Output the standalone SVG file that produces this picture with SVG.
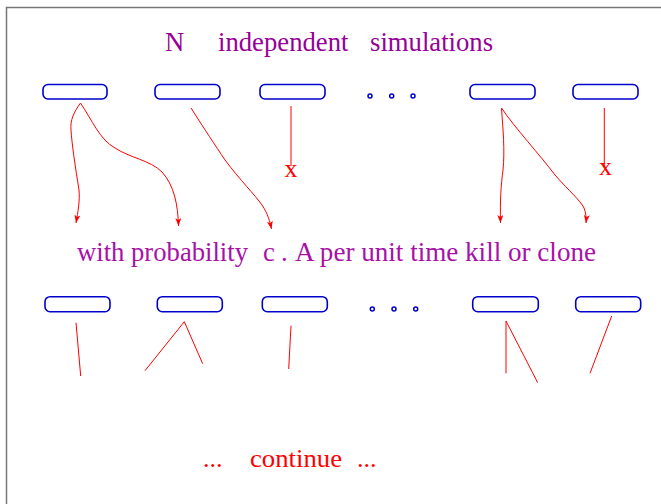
<svg xmlns="http://www.w3.org/2000/svg" width="661" height="504" viewBox="0 0 661 504">
<style>
.box{fill:none;stroke:#0000cc;stroke-width:1.6}
.dot{fill:none;stroke:#0000cc;stroke-width:1.5}
.ln{fill:none;stroke:#ff0000;stroke-width:1}
.arr{marker-end:url(#ah)}
.t{font-family:"Liberation Serif","Times New Roman",serif;font-size:26.7px}
.pur{fill:#a810a8}
.pur2{fill:#970097}
.red{fill:#ff0000}
.x{font-family:"Liberation Serif","Times New Roman",serif;font-size:26px;fill:#ff0000;text-anchor:middle}
</style>
<defs>
<marker id="ah" markerUnits="userSpaceOnUse" markerWidth="10" markerHeight="8" refX="8" refY="3" orient="auto">
<path d="M0,0 L8,3 L0,6 L2,3 z" fill="#ff0000"/>
</marker>
</defs>
<rect x="6.5" y="7.5" width="700" height="600" fill="#ffffff" stroke="#777777" stroke-width="1.5"/>
<g id="title"><text class="t pur2" x="165" y="51">N</text><text class="t pur2" x="218" y="51">independent</text><text class="t pur2" x="370" y="51">simulations</text></g>
<g id="top-row">
<rect id="t1" class="box" x="43" y="84.5" width="64" height="14.5" rx="5"/>
<rect id="t2" class="box" x="155" y="84.5" width="65" height="14.5" rx="5"/>
<rect id="t3" class="box" x="260" y="84.5" width="65" height="14.5" rx="5"/>
<g id="t-dots"><circle class="dot" cx="370" cy="96" r="2"/><circle class="dot" cx="391.7" cy="96" r="2"/><circle class="dot" cx="413" cy="96" r="2"/></g>
<rect id="t4" class="box" x="470" y="84.5" width="65" height="14.5" rx="5"/>
<rect id="t5" class="box" x="573" y="84.5" width="65" height="14.5" rx="5"/>
</g>
<g id="connectors">
<path class="ln arr" d="M80.5,103 C74,112 70,120 71,130 C72,145 75,165 79,190 C80,200 78,212 76,223"/>
<path class="ln arr" d="M80.5,103 C92,120 100,140 115,148 C130,158 150,160 162,172 C174,185 178,205 178.5,226"/>
<path class="ln arr" d="M191,108 C205,130 215,145 225,160 C240,180 255,195 262,205 C268,214 270,222 271.5,229"/>
<path class="ln" d="M291,106 L291,166"/>
<path class="ln arr" d="M501.5,108 C503,130 505,150 503,170 C501,185 500,200 500.5,223"/>
<path class="ln arr" d="M501.5,108 C515,128 540,155 555,175 C570,192 580,200 584,208 C586,213 586.5,218 586,223"/>
<path class="ln" d="M604.3,108 L604.3,166"/>
<path class="ln" d="M76,322.7 L80.7,376"/>
<path class="ln" d="M145,370.7 L184.3,321.7 L202.7,363.7"/>
<path class="ln" d="M291,325.7 L288.7,369"/>
<path class="ln" d="M506,373.3 L506,321 L537.7,382.7"/>
<path class="ln" d="M611.7,316 L590,373.3"/>
</g>
<g id="kills"><text class="x" x="291" y="177">x</text><text class="x" x="605.5" y="175">x</text></g>
<g id="rule"><text class="t pur" x="77" y="261" textLength="171" lengthAdjust="spacingAndGlyphs">with probability</text><text class="t pur" x="263" y="261">c</text><text class="t pur" x="281" y="261">.</text><text class="t pur" x="295" y="261" textLength="301" lengthAdjust="spacingAndGlyphs">A per unit time kill or clone</text></g>
<g id="bottom-row">
<rect id="b1" class="box" x="45" y="296.7" width="65" height="15" rx="5"/>
<rect id="b2" class="box" x="157.3" y="296.7" width="65" height="15" rx="5"/>
<rect id="b3" class="box" x="262.3" y="296.7" width="65" height="15" rx="5"/>
<g id="b-dots"><circle class="dot" cx="372.3" cy="309" r="2"/><circle class="dot" cx="394" cy="309" r="2"/><circle class="dot" cx="415.7" cy="309" r="2"/></g>
<rect id="b4" class="box" x="472.7" y="296.7" width="65.6" height="15" rx="5"/>
<rect id="b5" class="box" x="575.7" y="296.7" width="65" height="15" rx="5"/>
</g>
<g id="footer"><text class="t red" x="203" y="467" style="font-size:26px">...</text><text class="t red" x="250" y="467" style="font-size:26px" textLength="92" lengthAdjust="spacingAndGlyphs">continue</text><text class="t red" x="357" y="467" style="font-size:26px">...</text></g>
</svg>
